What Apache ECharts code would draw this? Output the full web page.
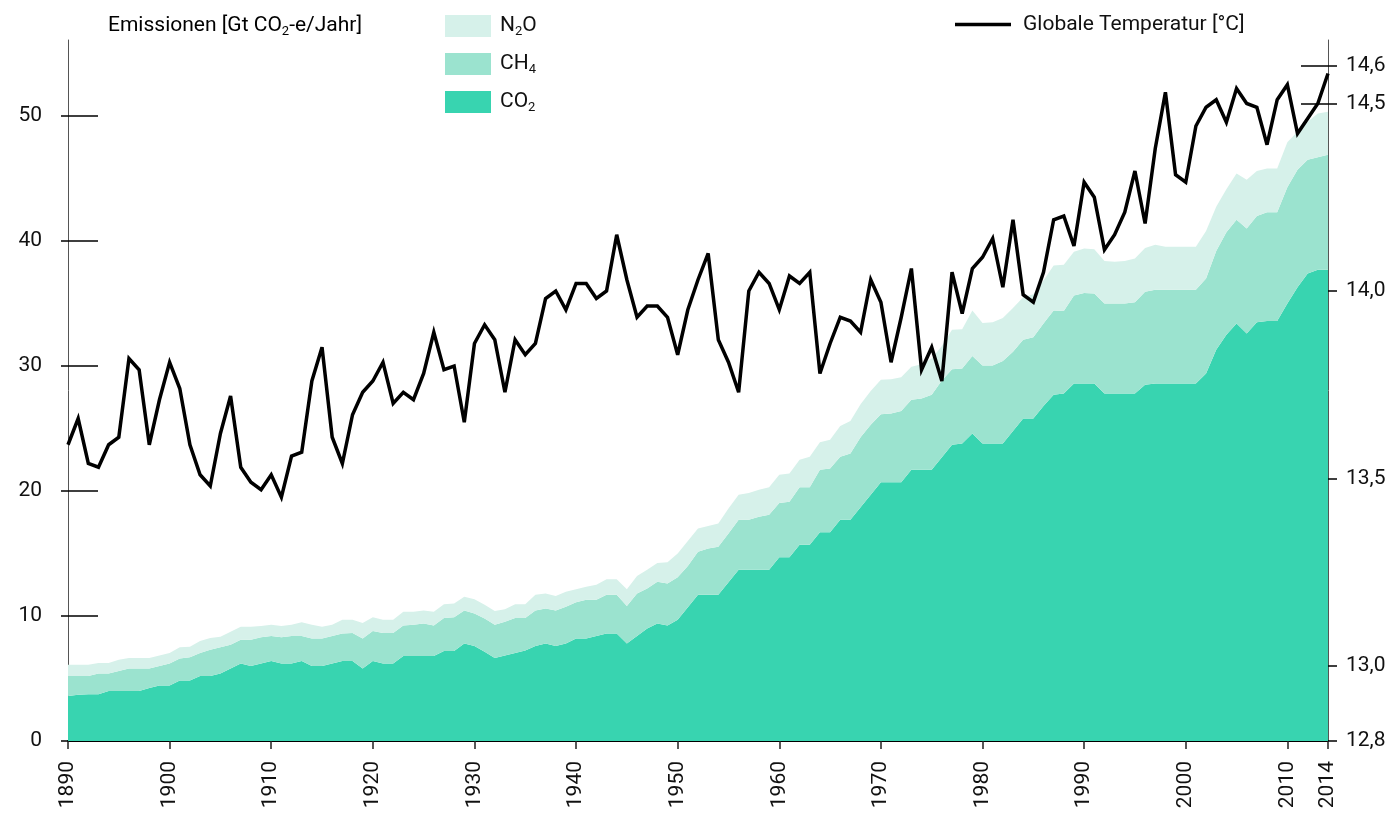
<!DOCTYPE html>
<html>
<head>
<meta charset="utf-8">
<script src="https://cdn.jsdelivr.net/npm/echarts@6/dist/echarts.min.js"></script>
<style>
  html, body { margin: 0; padding: 0; background: #fff; }
  #chart { width: 1389px; height: 818px; }
</style>
</head>
<body>
<div id="chart"></div>
<script>
// Years 1890 .. 2014
const years = [];
for (let y = 1890; y <= 2014; y++) years.push(String(y));

// Emissions per gas, Gt CO2-equivalent per year
const co2 = [
  3.6, 3.7, 3.75, 3.75, 4.0, 4.0, 4.0, 4.0, 4.25, 4.45,
  4.45, 4.85, 4.85, 5.2, 5.2, 5.4, 5.8, 6.2, 6.0, 6.2,
  6.4, 6.2, 6.2, 6.4, 6.0, 6.0, 6.2, 6.4, 6.4, 5.8,
  6.4, 6.2, 6.2, 6.8, 6.8, 6.8, 6.8, 7.2, 7.2, 7.8,
  7.6, 7.15, 6.65, 6.85, 7.05, 7.25, 7.6, 7.8, 7.6, 7.8,
  8.2, 8.2, 8.4, 8.6, 8.6, 7.8, 8.4, 9.0, 9.4, 9.25,
  9.7, 10.7, 11.7, 11.7, 11.7, 12.7, 13.7, 13.7, 13.7, 13.7,
  14.7, 14.7, 15.7, 15.7, 16.7, 16.7, 17.7, 17.7, 18.7, 19.7,
  20.7, 20.7, 20.7, 21.7, 21.7, 21.7, 22.7, 23.7, 23.8, 24.6,
  23.8, 23.8, 23.8, 24.8, 25.8, 25.8, 26.8, 27.7, 27.8, 28.6,
  28.6, 28.6, 27.8, 27.8, 27.8, 27.8, 28.5, 28.6, 28.6, 28.6,
  28.6, 28.6, 29.4, 31.3, 32.5, 33.4, 32.6, 33.5, 33.6, 33.6,
  35.0, 36.3, 37.4, 37.7, 37.7
];
const ch4 = [
  1.6, 1.5, 1.45, 1.65, 1.4, 1.6, 1.8, 1.8, 1.55, 1.55,
  1.75, 1.75, 1.85, 1.85, 2.1, 2.1, 1.9, 1.9, 2.1, 2.1,
  2.0, 2.1, 2.2, 2.0, 2.2, 2.2, 2.2, 2.2, 2.25, 2.4,
  2.4, 2.45, 2.45, 2.45, 2.5, 2.6, 2.45, 2.65, 2.7, 2.65,
  2.6, 2.65, 2.65, 2.7, 2.8, 2.6, 2.85, 2.8, 2.85, 2.95,
  2.9, 3.1, 2.9, 3.1, 3.1, 3.0, 3.4, 3.2, 3.35, 3.35,
  3.4, 3.3, 3.45, 3.7, 3.85, 3.9, 4.0, 4.0, 4.25, 4.4,
  4.35, 4.45, 4.6, 4.6, 5.0, 5.1, 5.05, 5.3, 5.6, 5.6,
  5.45, 5.5, 5.7, 5.6, 5.7, 6.0, 6.15, 6.05, 6.0, 6.2,
  6.25, 6.25, 6.6, 6.35, 6.3, 6.5, 6.6, 6.75, 6.6, 7.05,
  7.25, 7.2, 7.2, 7.2, 7.2, 7.3, 7.45, 7.5, 7.5, 7.5,
  7.5, 7.5, 7.6, 7.9, 8.2, 8.3, 8.4, 8.5, 8.7, 8.7,
  9.3, 9.4, 9.1, 9.0, 9.2
];
const n2o = [
  0.9, 0.9, 0.9, 0.85, 0.85, 0.9, 0.85, 0.85, 0.85, 0.85,
  0.85, 0.9, 0.85, 0.95, 0.95, 0.85, 1.05, 1.05, 1.05, 0.9,
  0.9, 0.9, 0.9, 1.1, 1.1, 0.95, 0.9, 1.1, 1.05, 1.25,
  1.1, 1.05, 1.05, 1.1, 1.05, 1.05, 1.1, 1.1, 1.1, 1.1,
  1.15, 1.1, 1.1, 1.0, 1.1, 1.1, 1.25, 1.2, 1.15, 1.2,
  1.05, 1.05, 1.2, 1.25, 1.25, 1.35, 1.4, 1.5, 1.5, 1.7,
  1.9, 2.0, 1.85, 1.8, 1.85, 2.0, 2.0, 2.15, 2.15, 2.2,
  2.25, 2.25, 2.2, 2.45, 2.2, 2.3, 2.45, 2.6, 2.65, 2.7,
  2.75, 2.75, 2.7, 2.65, 2.75, 2.9, 2.75, 3.15, 3.15, 3.65,
  3.4, 3.45, 3.45, 3.5, 3.4, 3.45, 3.45, 3.6, 3.7, 3.5,
  3.55, 3.55, 3.4, 3.35, 3.4, 3.5, 3.5, 3.6, 3.45, 3.45,
  3.45, 3.45, 3.8, 3.55, 3.45, 3.7, 3.9, 3.6, 3.5, 3.5,
  3.6, 3.05, 3.05, 3.5, 3.45
];

// Global mean temperature, °C
const temperature = [
  13.59, 13.66, 13.54, 13.53, 13.59, 13.61, 13.82, 13.79, 13.59, 13.71,
  13.81, 13.74, 13.59, 13.51, 13.48, 13.62, 13.72, 13.53, 13.49, 13.47,
  13.51, 13.45, 13.56, 13.57, 13.76, 13.85, 13.61, 13.54, 13.67, 13.73,
  13.76, 13.81, 13.70, 13.73, 13.71, 13.78, 13.89, 13.79, 13.80, 13.65,
  13.86, 13.91, 13.87, 13.73, 13.87, 13.83, 13.86, 13.98, 14.00, 13.95,
  14.02, 14.02, 13.98, 14.00, 14.15, 14.03, 13.93, 13.96, 13.96, 13.93,
  13.83, 13.95, 14.03, 14.10, 13.87, 13.81, 13.73, 14.00, 14.05, 14.02,
  13.95, 14.04, 14.02, 14.05, 13.78, 13.86, 13.93, 13.92, 13.89, 14.03,
  13.97, 13.81, 13.93, 14.06, 13.79, 13.85, 13.76, 14.05, 13.94, 14.06,
  14.09, 14.14, 14.01, 14.19, 13.99, 13.97, 14.05, 14.19, 14.20, 14.12,
  14.29, 14.25, 14.11, 14.15, 14.21, 14.32, 14.18, 14.38, 14.53, 14.31,
  14.29, 14.44, 14.49, 14.51, 14.45, 14.54, 14.50, 14.49, 14.39, 14.51,
  14.55, 14.42, 14.46, 14.50, 14.58
];

// Axis ticks
const emissionTicks = [0, 10, 20, 30, 40, 50];
const temperatureTicks = [12.8, 13.0, 13.5, 14.0, 14.5, 14.6];
const yearTicks = ['1890', '1900', '1910', '1920', '1930', '1940', '1950',
                   '1960', '1970', '1980', '1990', '2000', '2010', '2014'];

const FONT = "Roboto, 'Noto Sans', sans-serif";
const INK = '#111';
const COLORS = { CO2: '#38d4b0', CH4: '#9be3cf', N2O: '#d6f1ea' };

// rich-text styles for chemical subscripts
const rich = {
  n: { fontFamily: FONT, fontSize: 21, color: INK, lineHeight: 22 },
  s: { fontFamily: FONT, fontSize: 13, color: INK, lineHeight: 13, padding: [11, 0, 0, 0] }
};
const gasLabel = {
  N2O: '{n|N}{s|2}{n|O}',
  CH4: '{n|CH}{s|4}',
  CO2: '{n|CO}{s|2}'
};

const isYearTick = (idx, val) => yearTicks.indexOf(String(val)) >= 0;

const chart = echarts.init(document.getElementById('chart'), null, { renderer: 'canvas' });

const areaSeries = (name, data) => ({
  name: name,
  type: 'line',
  stack: 'emissions',
  data: data,
  symbol: 'none',
  lineStyle: { width: 0 },
  areaStyle: { color: COLORS[name], opacity: 1 },
  itemStyle: { color: COLORS[name] },
  z: 2
});

const option = {
  animation: false,
  backgroundColor: '#fff',
  textStyle: { fontFamily: FONT },
  grid: { left: 68, right: 61, top: 40, bottom: 77, containLabel: false },
  graphic: [{
    type: 'text',
    left: 108,
    top: 14,
    style: {
      text: '{n|Emissionen [Gt CO}{s|2}{n|-e/Jahr]}',
      rich: rich
    }
  }],
  legend: [{
    orient: 'vertical',
    left: 440,
    top: 9,
    padding: 5,
    itemWidth: 46,
    itemHeight: 22,
    itemGap: 14,
    icon: 'rect',
    selectedMode: false,
    data: ['N2O', 'CH4', 'CO2'],
    formatter: name => gasLabel[name],
    textStyle: { rich: rich, padding: [0, 0, 0, 4] }
  }, {
    left: 950,
    top: 9,
    padding: 5,
    itemWidth: 56,
    itemHeight: 3.5,
    icon: 'rect',
    selectedMode: false,
    data: ['Globale Temperatur [°C]'],
    textStyle: { fontFamily: FONT, fontSize: 21, color: INK, padding: [0, 0, 0, 7] }
  }],
  xAxis: {
    type: 'category',
    data: years,
    boundaryGap: false,
    axisLine: { lineStyle: { color: '#000', width: 2 } },
    axisTick: { interval: isYearTick, length: 8, lineStyle: { color: '#222', width: 1.5 } },
    axisLabel: {
      interval: isYearTick,
      rotate: 90,
      margin: 20,
      fontFamily: FONT,
      fontSize: 21,
      color: INK,
      hideOverlap: false
    },
    splitLine: { show: false }
  },
  yAxis: [{
    type: 'value',
    position: 'left',
    min: 0,
    max: 56.08,
    axisLine: { show: true, lineStyle: { color: '#555', width: 1 } },
    axisTick: { show: true, inside: true, length: 30, customValues: emissionTicks,
                lineStyle: { color: '#000', width: 1.5 } },
    axisLabel: { customValues: emissionTicks, margin: 26, fontFamily: FONT, fontSize: 21, color: INK },
    splitLine: { show: false }
  }, {
    type: 'value',
    position: 'right',
    min: 12.8,
    max: 14.6693,
    axisLine: { show: true, lineStyle: { color: '#555', width: 1 } },
    axisTick: { show: true, inside: true, length: 27, customValues: temperatureTicks,
                lineStyle: { color: '#000', width: 1.5 } },
    axisLabel: {
      customValues: temperatureTicks,
      margin: 18,
      fontFamily: FONT,
      fontSize: 21,
      color: INK,
      formatter: v => v.toFixed(1).replace('.', ',')
    },
    splitLine: { show: false }
  }, {
    // short outward ticks on the left axis
    type: 'value',
    position: 'left',
    min: 0,
    max: 56.08,
    axisLine: { show: false },
    axisTick: { show: true, inside: false, length: 7, customValues: emissionTicks,
                lineStyle: { color: '#000', width: 1.5 } },
    axisLabel: { show: false },
    splitLine: { show: false }
  }, {
    // short outward ticks on the right axis
    type: 'value',
    position: 'right',
    min: 12.8,
    max: 14.6693,
    axisLine: { show: false },
    axisTick: { show: true, inside: false, length: 9, customValues: temperatureTicks,
                lineStyle: { color: '#000', width: 1.5 } },
    axisLabel: { show: false },
    splitLine: { show: false }
  }],
  series: [
    areaSeries('CO2', co2),
    areaSeries('CH4', ch4),
    areaSeries('N2O', n2o),
    {
      name: 'Globale Temperatur [°C]',
      type: 'line',
      yAxisIndex: 1,
      data: temperature,
      symbol: 'none',
      lineStyle: { color: '#000', width: 3.5, join: 'miter', miterLimit: 4 },
      itemStyle: { color: '#000' },
      z: 5
    }
  ]
};

chart.setOption(option);
</script>
</body>
</html>
